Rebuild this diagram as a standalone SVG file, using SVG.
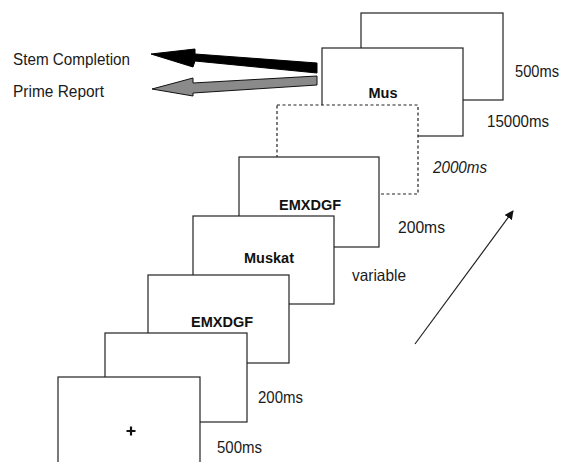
<svg xmlns="http://www.w3.org/2000/svg" width="563" height="462" viewBox="0 0 563 462">
<style>
.scr{fill:#fff;stroke:#222;stroke-width:1.2}
.dash{stroke-dasharray:3,2.5}
.lbl{font-family:"Liberation Sans",Arial,sans-serif;font-size:16.5px;fill:#1a1a1a}
.stim{font-family:"Liberation Sans",Arial,sans-serif;font-size:14.5px;font-weight:bold;fill:#111;text-anchor:middle}
</style>
<defs>
<marker id="ah" viewBox="0 0 10 10" refX="9" refY="5" markerWidth="9" markerHeight="9" markerUnits="userSpaceOnUse" orient="auto"><path d="M0,0 L10,5 L0,10 z" fill="#111"/></marker>
</defs>
<rect width="563" height="462" fill="#fff"/>
<g id="screen-blank-top"><rect class="scr" x="361" y="13" width="142" height="87"/></g>
<g id="screen-mus"><rect class="scr" x="322" y="48" width="141" height="88"/><text class="stim" x="383" y="98">Mus</text></g>
<g id="screen-dashed"><rect class="scr dash" x="277" y="105" width="141" height="89"/></g>
<g id="screen-emxdgf-1"><rect class="scr" x="239" y="157" width="140" height="90"/><text class="stim" x="310" y="210">EMXDGF</text></g>
<g id="screen-muskat"><rect class="scr" x="193" y="216" width="141" height="88"/><text class="stim" x="269" y="263">Muskat</text></g>
<g id="screen-emxdgf-2"><rect class="scr" x="148" y="275" width="141" height="88"/><text class="stim" x="222" y="327">EMXDGF</text></g>
<g id="screen-blank"><rect class="scr" x="105" y="333" width="142" height="89"/></g>
<g id="screen-fixation"><rect class="scr" x="58" y="377" width="142" height="95"/><path d="M126.5,431 H135.5 M131,426.5 V435.5" stroke="#111" stroke-width="2.2"/></g>
<g id="durations">
<text class="lbl" x="515" y="77" font-size="15.5" textLength="44" lengthAdjust="spacingAndGlyphs">500ms</text>
<text class="lbl" x="487" y="127" textLength="62" lengthAdjust="spacingAndGlyphs">15000ms</text>
<text class="lbl" x="433" y="173" font-style="italic" textLength="54" lengthAdjust="spacingAndGlyphs">2000ms</text>
<text class="lbl" x="398" y="233" textLength="47" lengthAdjust="spacingAndGlyphs">200ms</text>
<text class="lbl" x="352" y="281" textLength="54" lengthAdjust="spacingAndGlyphs">variable</text>
<text class="lbl" x="258" y="403" textLength="45" lengthAdjust="spacingAndGlyphs">200ms</text>
<text class="lbl" x="217" y="453" textLength="45" lengthAdjust="spacingAndGlyphs">500ms</text>
</g>
<g id="responses">
<text class="lbl" x="13" y="65" textLength="117" lengthAdjust="spacingAndGlyphs" font-size="17.5">Stem Completion</text>
<text class="lbl" x="13" y="97" textLength="91" lengthAdjust="spacingAndGlyphs" font-size="17.5">Prime Report</text>
</g>
<g id="connectors">
<path d="M317,63 L195,54 L195,49 L151,54 L193,67 L195,61 L317,73 Z" fill="#000" stroke="#000" stroke-width="1"/>
<path d="M317,76 L193,83 L193,78 L152,89 L193,96 L193,93 L317,85 Z" fill="#8a8a8a" stroke="#111" stroke-width="1"/>
<line x1="415" y1="344" x2="513" y2="211" stroke="#222" stroke-width="1.2" marker-end="url(#ah)"/>
</g>
</svg>
